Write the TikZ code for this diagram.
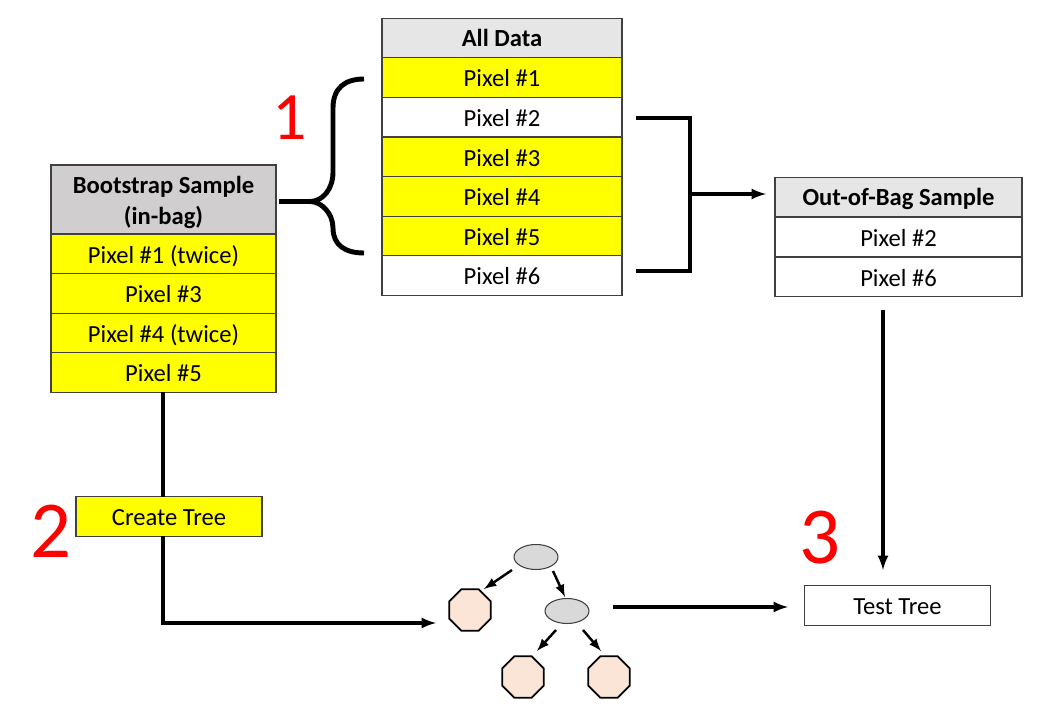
\documentclass[tikz,border=0pt]{standalone}
\usepackage{fontspec}
\setmainfont{Carlito}
\usetikzlibrary{shapes.geometric}
\definecolor{hdrlight}{HTML}{E7E6E6}
\definecolor{hdrdark}{HTML}{D0CECE}
\definecolor{leafcol}{HTML}{FBE5D6}
\definecolor{splitcol}{HTML}{D9D9D9}
\definecolor{rowline}{HTML}{404040}
\definecolor{rowyellow}{HTML}{FFFF00}
\definecolor{numred}{HTML}{FF0000}
\tikzset{
  allrow/.style={draw=rowline,line width=0.8pt,minimum width=4.8cm,minimum height=0.79cm,inner sep=0pt,text height=10.4pt,text depth=0pt,font=\fontsize{14}{17.5}\selectfont},
  bagrow/.style={allrow,minimum width=4.5cm},
  oobrow/.style={allrow,minimum width=4.94cm},
  testbox/.style={allrow,minimum width=3.72cm},
  hdrbold/.style={text height=9.2pt,font=\fontsize{14}{17.5}\selectfont\bfseries},
  split/.style={shape=ellipse,draw=rowline,line width=0.6pt,fill=splitcol,minimum width=0.88cm,minimum height=0.5cm,inner sep=0pt},
  leaf/.style={shape=regular polygon,regular polygon sides=8,draw=black,line width=1pt,fill=leafcol,minimum size=0.9cm,inner sep=0pt},
  bignum/.style={text=numred,font=\fontsize{46}{48}\selectfont},
  conn/.style={line width=1.8pt},
  connarrow/.style={line width=1.8pt,-latex},
  tiparrow/.style={line width=1.4pt,-latex}
}
\begin{document}
\begin{tikzpicture}[x=0.02cm,y=-0.02cm]
        \useasboundingbox (0,0) rectangle (1048,712);

        % all data
        \node[allrow,hdrbold,fill=hdrlight] (All) at (502,38) {All Data};
        \node[allrow,fill=rowyellow] (A1) at (502,77.5) {Pixel \#1};
        \node[allrow,fill=white] (A2) at (502,117) {Pixel \#2};
        \node[allrow,fill=rowyellow] (A3) at (502,157) {Pixel \#3};
        \node[allrow,fill=rowyellow] (A4) at (502,196.5) {Pixel \#4};
        \node[allrow,fill=rowyellow] (A5) at (502,236) {Pixel \#5};
        \node[allrow,fill=white] (A6) at (502,275.5) {Pixel \#6};

        % in-bag
        \node[bagrow,hdrbold,fill=hdrdark,minimum height=1.38cm,align=center,text height=,text depth=] (Bag) at (163.5,199.5) {\rule{0pt}{13.6pt}Bootstrap Sample\\(in-bag)};
        \node[bagrow,fill=rowyellow] (B1) at (163.5,254) {Pixel \#1 (twice)};
        \node[bagrow,fill=rowyellow] (B3) at (163.5,293.5) {Pixel \#3};
        \node[bagrow,fill=rowyellow] (B4) at (163.5,333) {Pixel \#4 (twice)};
        \node[bagrow,fill=rowyellow] (B5) at (163.5,372.5) {Pixel \#5};

        % out-of-bag
        \node[oobrow,hdrbold,fill=hdrlight] (Oob) at (898.5,197) {Out-of-Bag Sample};
        \node[oobrow,fill=white] (O2) at (898.5,237) {Pixel \#2};
        \node[oobrow,fill=white] (O6) at (898.5,277) {Pixel \#6};

        \node[testbox,fill=rowyellow] (Create) at (169,516.5) {Create Tree};
        \node[testbox,fill=white] (Test) at (897.5,605.5) {Test Tree};

        % tree
        \node[split] (S1) at (536,557) {};
        \node[split] (S2) at (567,611) {};
        \node[leaf] (L1) at (470,610) {};
        \node[leaf] (L2) at (523,677) {};
        \node[leaf] (L3) at (609,677) {};

        \node[bignum,font=\fontsize{38.6}{40}\selectfont] (N1) at (290,118) {1};
        \node[bignum] (N2) at (51,531) {2};
        \node[bignum] (N3) at (820,538) {3};

        % free ends
        \coordinate (BrTop) at (364,79);
        \coordinate (BrBot) at (364,253);
        \coordinate (BrMid) at (310,201.5);
        \coordinate (BrOut) at (279,201.5);
        \coordinate (JoinA) at (636,118);
        \coordinate (JoinB) at (636,271);
        \coordinate (CornerA) at (690,118);
        \coordinate (CornerB) at (690,271);
        \coordinate (Join) at (690,194);
        \coordinate (JoinEnd) at (766,194);
        \coordinate (Bend) at (163,623);
        \coordinate (BendEnd) at (436,623);
        \coordinate (BagOut) at (163,392);
        \coordinate (CreateIn) at (163,497);
        \coordinate (CreateOut) at (163,536);
        \coordinate (OobOut) at (883,310);
        \coordinate (TestIn) at (883,570);
        \coordinate (TreeOut) at (613,607);
        \coordinate (TestLeft) at (788,607);

        % brace
        \draw [line width=2.8pt] (BrOut) -- (BrMid);
        \draw [line width=2.8pt] (BrTop) .. controls (345,79) and (333,88) .. (333,108) -- (333,172) .. controls (333,190) and (322,201.5) .. (BrMid);
        \draw [line width=2.8pt] (BrBot) .. controls (345,253) and (333,245) .. (333,228) .. controls (333,214) and (322,201.5) .. (BrMid);

        % joining bracket
        \draw [conn] (JoinA) -- (CornerA) -- (CornerB) -- (JoinB);
        \draw [connarrow] (Join) -- (JoinEnd);

        \draw [conn] (BagOut) -- (CreateIn);
        \draw [connarrow] (CreateOut) -- (Bend) -- (BendEnd);
        \draw [connarrow] (OobOut) -- (TestIn);
        \draw [connarrow] (TreeOut) -- (TestLeft);

        \coordinate (T1a) at (512,570);
        \coordinate (T1b) at (484,589);
        \coordinate (T2a) at (553,571);
        \coordinate (T2b) at (565,597);
        \coordinate (T3a) at (556,630);
        \coordinate (T3b) at (537,651);
        \coordinate (T4a) at (583,630);
        \coordinate (T4b) at (601,651);
        \draw [tiparrow] (T1a) -- (T1b);
        \draw [tiparrow] (T2a) -- (T2b);
        \draw [tiparrow] (T3a) -- (T3b);
        \draw [tiparrow] (T4a) -- (T4b);
\end{tikzpicture}
\end{document}
